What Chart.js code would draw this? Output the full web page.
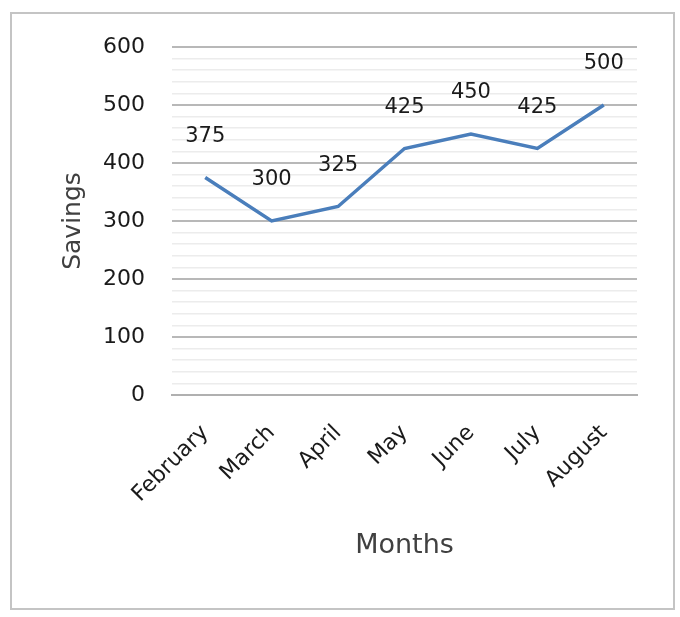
<!DOCTYPE html>
<html>
<head>
<meta charset="utf-8">
<script src="https://cdn.jsdelivr.net/npm/chart.js@4/dist/chart.umd.min.js"></script>
<style>
  html, body { margin: 0; padding: 0; background: #fff; }
  #wrap { position: relative; width: 680px; height: 617px; }
  #frame { position: absolute; left: 10px; top: 12px; width: 661px; height: 594px; border: 2px solid #c4c4c4; pointer-events: none; }
  canvas { position: absolute; left: 0; top: 0; }
</style>
</head>
<body>
<div id="wrap">
  <canvas id="c" width="680" height="617"></canvas>
  <div id="frame"></div>
</div>
<script>
const months = ['February', 'March', 'April', 'May', 'June', 'July', 'August'];
const savings = [375, 300, 325, 425, 450, 425, 500];
const yMin = 0;
const yMax = 600;
const yMajorStep = 100;
const yMinorStep = 20;
const xTitle = 'Months';
const yTitle = 'Savings';

const FONT = 'DejaVu Sans';

const valueLabels = {
  id: 'valueLabels',
  afterDatasetsDraw(chart) {
    const ctx = chart.ctx;
    const meta = chart.getDatasetMeta(0);
    ctx.save();
    ctx.font = '21px "' + FONT + '"';
    ctx.fillStyle = '#1a1a1a';
    ctx.textAlign = 'center';
    ctx.textBaseline = 'middle';
    meta.data.forEach((pt, i) => {
      ctx.fillText(String(chart.data.datasets[0].data[i]), pt.x, pt.y - 41);
    });
    ctx.restore();
  }
};

new Chart(document.getElementById('c'), {
  type: 'line',
  data: {
    labels: months,
    datasets: [{
      data: savings,
      borderColor: '#4a7ebb',
      borderWidth: 3.5,
      pointRadius: 0,
      tension: 0,
      fill: false
    }]
  },
  options: {
    responsive: false,
    animation: false,
    devicePixelRatio: 1,
    layout: { padding: { top: 47, right: 43, bottom: 55, left: 0 } },
    plugins: { legend: { display: false }, tooltip: { enabled: false } },
    scales: {
      x: {
        offset: true,
        grid: { display: false, drawTicks: false },
        border: { display: true, color: '#b0b0b0', width: 2 },
        ticks: {
          minRotation: 45, maxRotation: 45, autoSkip: false, padding: 25,
          color: '#1a1a1a', font: { family: FONT, size: 22 }
        },
        title: {
          display: true, text: xTitle, color: '#404040',
          font: { family: FONT, size: 27 }, padding: { top: 0, bottom: 0 }
        },
        afterFit(s) { s.height = 167; }
      },
      y: {
        min: yMin, max: yMax,
        border: { display: false },
        grid: {
          drawTicks: false,
          color: (c) => (c.tick && c.tick.value % yMajorStep === 0) ? '#b8b8b8' : '#ececec',
          lineWidth: (c) => (c.tick && c.tick.value % yMajorStep === 0) ? 2 : 1.5
        },
        ticks: {
          stepSize: yMinorStep, autoSkip: false, padding: 27,
          color: '#1a1a1a', font: { family: FONT, size: 22 },
          callback: (v) => (v % yMajorStep === 0 ? String(v) : '')
        },
        title: {
          display: true, text: yTitle, color: '#404040',
          font: { family: FONT, size: 25 }, padding: { top: 58, bottom: 0 }
        },
        afterFit(s) { s.width = 172; }
      }
    }
  },
  plugins: [valueLabels]
});
</script>
</body>
</html>
